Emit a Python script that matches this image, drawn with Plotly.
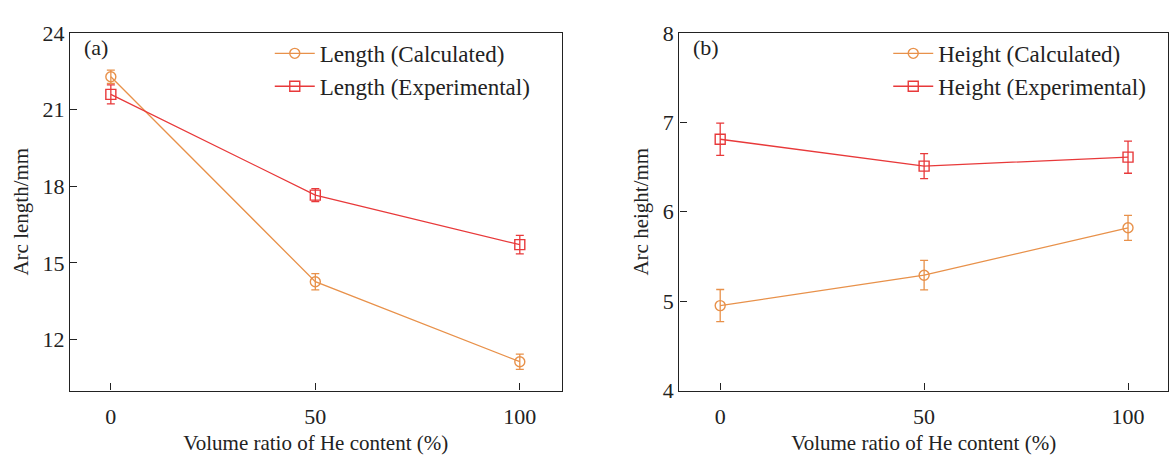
import plotly.graph_objects as go

he_ratio = [0, 50, 100]
length_calc = [22.28, 14.26, 11.13]
length_calc_err = [0.26, 0.32, 0.30]
length_exp = [21.59, 17.65, 15.71]
length_exp_err = [0.37, 0.25, 0.36]

height_calc = [4.95, 5.29, 5.82]
height_calc_err = [0.18, 0.165, 0.14]
height_exp = [6.81, 6.51, 6.61]
height_exp_err = [0.18, 0.14, 0.18]

C_CALC = "#E8914A"
C_EXP = "#E8393A"
FONT = "Times New Roman, Liberation Serif, serif"
TXT = "#222"

fig = go.Figure()

def add(x, y, err, name, color, symbol, xa, ya, legend):
    fig.add_trace(go.Scatter(
        x=x, y=y, name=name, mode="lines+markers",
        line=dict(color=color, width=1.3),
        marker=dict(symbol=symbol, size=10,
                    line=dict(color=color, width=1.4)),
        error_y=dict(type="data", array=err, visible=True, color=color,
                     thickness=1.3, width=4),
        xaxis=xa, yaxis=ya, legend=legend,
    ))

add(he_ratio, length_calc, length_calc_err, "Length (Calculated)", C_CALC, "circle-open", "x", "y", "legend")
add(he_ratio, length_exp, length_exp_err, "Length (Experimental)", C_EXP, "square-open", "x", "y", "legend")
add(he_ratio, height_calc, height_calc_err, "Height (Calculated)", C_CALC, "circle-open", "x2", "y2", "legend2")
add(he_ratio, height_exp, height_exp_err, "Height (Experimental)", C_EXP, "square-open", "x2", "y2", "legend2")

axis_common = dict(showline=True, linecolor=TXT, linewidth=1.3, mirror=True,
                   ticks="inside", ticklen=7, tickcolor=TXT, tickwidth=1.3,
                   showgrid=False, zeroline=False,
                   tickfont=dict(family=FONT, size=22, color=TXT),
                   title_font=dict(family=FONT, size=21, color=TXT))

ydom = [1 - 400 / 467, 1 - 22 / 467]
legend_common = dict(xanchor="left", yanchor="top", bgcolor="rgba(0,0,0,0)",
                     font=dict(family=FONT, size=23, color=TXT),
                     tracegroupgap=0, itemwidth=40)
xtitle = "Volume ratio of He content (%)"
fig.update_layout(
    width=1169, height=467,
    margin=dict(l=0, r=0, t=0, b=0),
    paper_bgcolor="white", plot_bgcolor="white",
    font=dict(family=FONT, size=20, color=TXT),
    xaxis=dict(domain=[70 / 1169, 562 / 1169], range=[-10, 110.2],
               tickvals=[0, 50, 100], ticklabelstandoff=6,
               title=dict(text=xtitle, standoff=7),
               anchor="y", **axis_common),
    yaxis=dict(domain=ydom, range=[10, 24], tickvals=[12, 15, 18, 21, 24],
               title=dict(text="Arc length/mm", standoff=8), anchor="x", **axis_common),
    xaxis2=dict(domain=[680 / 1169, 1.0], range=[-10, 109.8],
                tickvals=[0, 50, 100], ticklabelstandoff=6,
                title=dict(text=xtitle, standoff=7),
                anchor="y2", **axis_common),
    yaxis2=dict(domain=ydom, range=[4, 8], tickvals=[4, 5, 6, 7, 8],
                title=dict(text="Arc height/mm", standoff=8), anchor="x2", **axis_common),
    legend=dict(x=270 / 1169, y=1 - 21 / 467, **legend_common),
    legend2=dict(x=889 / 1169, y=1 - 21 / 467, **legend_common),
    annotations=[
        dict(text="(a)", x=82 / 1169, y=1 - 37 / 467, xref="paper", yref="paper",
             xanchor="left", yanchor="middle", showarrow=False,
             font=dict(family=FONT, size=22, color=TXT)),
        dict(text="(b)", x=692 / 1169, y=1 - 37 / 467, xref="paper", yref="paper",
             xanchor="left", yanchor="middle", showarrow=False,
             font=dict(family=FONT, size=22, color=TXT)),
    ],
)

fig.write_html("out.html")
